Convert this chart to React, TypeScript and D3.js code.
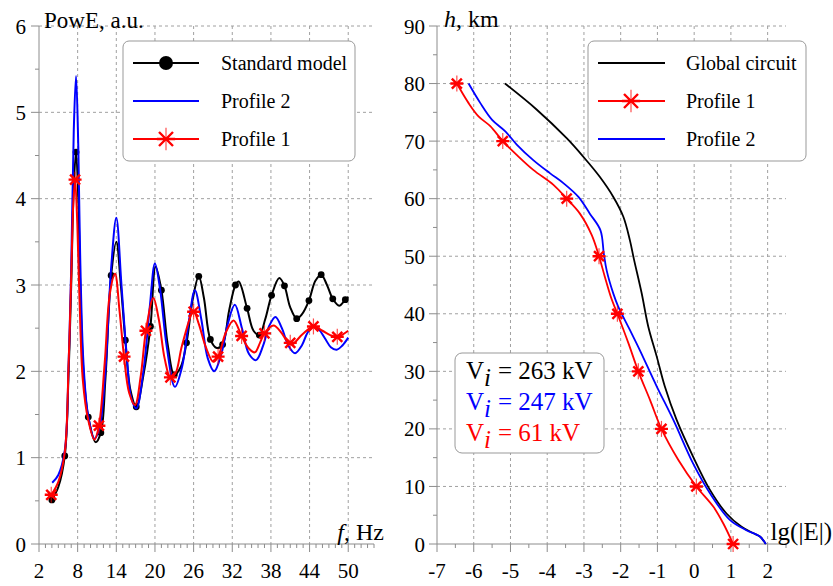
import * as d3 from "d3";

type Pt = [number, number];

// ---- left panel: spectra (f in Hz, PowE in a.u.)
const freqTicks = [2, 8, 14, 20, 26, 32, 38, 44, 50];
const powTicks = [0, 1, 2, 3, 4, 5, 6];

const standardLine: Pt[] = [
  [4.0, 0.51], [5.0, 0.66], [6.0, 1.02], [6.6, 2.0], [7.0, 3.0], [7.4, 4.15], [7.75, 4.54],
  [8.1, 4.0], [8.4, 3.0], [8.9, 2.0], [9.65, 1.47], [10.8, 1.18], [11.6, 1.29], [12.3, 1.9],
  [13.2, 3.11], [14.0, 3.5], [14.7, 3.0], [15.4, 2.36], [16.2, 1.78], [17.1, 1.59], [18.2, 1.95],
  [19.3, 2.52], [20.1, 3.21], [21.0, 2.94], [22.0, 2.3], [23.0, 1.96], [24.0, 2.05], [24.9, 2.33],
  [25.9, 2.85], [26.8, 3.1], [27.6, 2.85], [28.6, 2.37], [29.6, 2.27], [30.5, 2.31], [31.5, 2.7],
  [32.5, 3.0], [33.0, 3.04], [34.3, 2.73], [35.3, 2.47], [36.2, 2.42], [37.1, 2.6], [38.1, 2.88],
  [39.3, 3.08], [40.1, 2.99], [41.0, 2.74], [42.0, 2.61], [42.8, 2.66], [43.9, 2.82], [44.9, 3.05],
  [45.8, 3.12], [46.7, 3.0], [47.6, 2.84], [48.6, 2.76], [49.55, 2.83], [50.0, 2.86],
];
const standardMarks: Pt[] = [
  [4.0, 0.51], [6.0, 1.02], [7.75, 4.54], [9.65, 1.47], [11.6, 1.29], [13.2, 3.11], [15.4, 2.36],
  [17.1, 1.59], [19.3, 2.52], [21.0, 2.94], [23.0, 1.96], [24.9, 2.33], [26.8, 3.1], [28.6, 2.37],
  [30.5, 2.31], [32.5, 3.0], [34.3, 2.73], [36.2, 2.42], [38.1, 2.88], [40.1, 2.99], [42.0, 2.61],
  [43.9, 2.82], [45.8, 3.12], [47.6, 2.84], [49.55, 2.83],
];
const profile2Line: Pt[] = [
  [4.05, 0.71], [5.0, 0.8], [6.0, 1.08], [6.6, 2.1], [7.0, 3.2], [7.4, 4.8], [7.75, 5.42],
  [8.1, 4.6], [8.4, 3.3], [8.9, 2.1], [9.6, 1.5], [10.6, 1.22], [11.4, 1.35], [12.3, 2.0],
  [13.2, 3.2], [14.0, 3.78], [14.8, 3.0], [15.6, 2.2], [16.3, 1.7], [17.1, 1.57], [18.2, 2.0],
  [19.2, 2.75], [20.0, 3.25], [20.8, 2.95], [21.8, 2.3], [23.1, 1.82], [24.2, 2.05], [25.2, 2.55],
  [26.2, 2.94], [27.2, 2.6], [28.2, 2.15], [29.2, 2.0], [30.3, 2.2], [31.3, 2.55], [32.4, 2.77],
  [33.5, 2.5], [34.6, 2.2], [35.7, 2.13], [36.8, 2.3], [37.7, 2.52], [38.7, 2.63], [39.7, 2.5],
  [40.7, 2.3], [41.75, 2.21], [42.8, 2.3], [43.7, 2.45], [44.6, 2.52], [45.5, 2.48], [46.4, 2.38],
  [47.3, 2.28], [48.2, 2.25], [49.1, 2.3], [50.0, 2.39],
];
const profile1Line: Pt[] = [
  [3.9, 0.57], [5.0, 0.72], [6.0, 1.06], [6.6, 2.1], [7.0, 3.1], [7.3, 3.9], [7.6, 4.22],
  [7.95, 3.7], [8.3, 2.8], [8.8, 1.9], [9.6, 1.45], [10.6, 1.21], [11.3, 1.37], [12.2, 2.1],
  [13.0, 2.9], [13.8, 3.13], [14.5, 2.7], [15.2, 2.17], [16.0, 1.75], [16.9, 1.61], [17.8, 1.95],
  [18.6, 2.47], [19.75, 2.85], [20.6, 2.6], [21.5, 2.15], [22.4, 1.93], [23.2, 1.98], [24.2, 2.3],
  [26.0, 2.69], [26.8, 2.55], [27.9, 2.28], [29.05, 2.11], [29.8, 2.17], [31.0, 2.45], [32.2, 2.59],
  [33.45, 2.41], [34.5, 2.27], [35.5, 2.22], [36.3, 2.33], [37.0, 2.44], [38.4, 2.53], [39.6, 2.45],
  [40.4, 2.36], [41.2, 2.31], [42.9, 2.43], [44.6, 2.52], [46.0, 2.47], [47.2, 2.42], [48.3, 2.4],
  [50.0, 2.47],
];
const profile1Marks: Pt[] = [
  [3.9, 0.57], [7.6, 4.22], [11.3, 1.37], [15.2, 2.17], [18.6, 2.47], [22.4, 1.93], [26.0, 2.69],
  [29.8, 2.17], [33.45, 2.41], [37.0, 2.44], [41.0, 2.33], [44.6, 2.52], [48.3, 2.4],
];

// ---- right panel: altitude profiles (lg|E| vs h, km)
const lgTicks = [-7, -6, -5, -4, -3, -2, -1, 0, 1, 2];
const hTicks = [0, 10, 20, 30, 40, 50, 60, 70, 80, 90];

const globalCircuit: Pt[] = [
  [-5.15, 80], [-4.29, 75.5], [-3.47, 70.5], [-3.02, 67.3], [-2.57, 63.8], [-2.2, 60.3],
  [-1.93, 56.9], [-1.75, 52.8], [-1.64, 49.5], [-1.43, 43.6], [-1.25, 37.8], [-1.02, 32.6],
  [-0.8, 27.4], [-0.48, 21.6], [-0.03, 15.2], [0.43, 9.4], [0.88, 5.3], [1.29, 3.0], [1.6, 1.9],
  [1.79, 1.3], [1.95, 0],
];
const profile2Alt: Pt[] = [
  [-6.14, 80], [-5.82, 76.6], [-5.5, 73.7], [-5.14, 71.7], [-4.83, 69.4], [-4.38, 66.7],
  [-3.92, 64.4], [-3.56, 62.7], [-3.15, 60.3], [-2.84, 57.4], [-2.55, 54.5], [-2.46, 50.5],
  [-2.38, 47.5], [-2.2, 43.5], [-2.07, 41.3], [-1.75, 37.2], [-1.48, 33.7], [-1.02, 27.4],
  [-0.57, 21.6], [-0.03, 14.0], [0.43, 8.8], [0.97, 4.2], [1.42, 2.4], [1.79, 1.3], [1.95, 0],
];
const profile1Alt: Pt[] = [
  [-6.46, 80], [-6.14, 76.6], [-5.87, 74.3], [-5.55, 72.6], [-5.21, 70], [-4.83, 67.6],
  [-4.38, 65], [-3.83, 62.4], [-3.47, 60], [-3.11, 57.4], [-2.79, 53.7], [-2.59, 50],
  [-2.43, 46.4], [-2.25, 42.6], [-2.09, 40], [-1.79, 34.9], [-1.52, 30], [-1.2, 25],
  [-0.89, 20], [-0.43, 14.6], [0.06, 10], [0.52, 6.5], [0.79, 3.6], [1.06, 0],
];
const profile1AltMarks: Pt[] = [
  [-6.46, 80], [-5.21, 70], [-3.47, 60], [-2.59, 50], [-2.09, 40], [-1.52, 30], [-0.89, 20],
  [0.06, 10], [1.06, 0],
];

const FONT = "'Liberation Serif', 'Times New Roman', serif";
const GRID = "#a0a0a0";
const AXIS = "#8c8c8c";

const starPath = (s: number) =>
  `M${-s},${-s}L${s},${s}M${-s},${s}L${s},${-s}M${-s * 1.3},0L${s * 1.3},0`;
const starVert = (s: number) => `M0,${-s * 1.6}L0,${s * 1.6}`;

const Star = ({ x, y, s }: { x: number; y: number; s: number }) => (
  <g transform={`translate(${x},${y})`}>
    <path d={starPath(s)} stroke="red" strokeWidth={2.4} fill="none" />
    <path d={starVert(s)} stroke="red" strokeWidth={1.2} fill="none" opacity={0.7} />
  </g>
);

export default function App() {
  // left scales
  const xL = d3.scaleLinear().domain([2, 54]).range([39, 374]);
  const yL = d3.scaleLinear().domain([0, 6]).range([544, 26]);
  // right scales
  const xR = d3.scaleLinear().domain([-7, 2.5]).range([437, 786]);
  const yR = d3.scaleLinear().domain([0, 90]).range([544, 26]);

  const lineL = d3
    .line<Pt>()
    .x((d) => xL(d[0]))
    .y((d) => yL(d[1]))
    .curve(d3.curveCatmullRom.alpha(0.5));
  const lineR = d3
    .line<Pt>()
    .x((d) => xR(d[0]))
    .y((d) => yR(d[1]))
    .curve(d3.curveCatmullRom.alpha(0.5));

  const fMinor = d3.range(2, 54.01, 1);
  const pMinor = d3.range(0, 6.01, 0.5);
  const lgMinor = d3.range(-7, 2.51, 0.5);
  const hMinor = d3.range(0, 90.01, 5);

  return (
    <svg
      width={833}
      height={586}
      style={{ position: "absolute", left: 0, top: 0, background: "#fff" }}
      fontFamily={FONT}
    >
      {/* ================= LEFT PANEL ================= */}
      <g>
        {/* grid */}
        {freqTicks.slice(1).map((t) => (
          <line key={"gv" + t} x1={xL(t)} x2={xL(t)} y1={yL(6)} y2={yL(0)} stroke={GRID} strokeDasharray="3,3" />
        ))}
        {powTicks.slice(1).map((t) => (
          <line key={"gh" + t} x1={xL(2)} x2={xL(54)} y1={yL(t)} y2={yL(t)} stroke={GRID} strokeDasharray="3,3" />
        ))}
        {/* axes */}
        <line x1={xL(2)} x2={xL(2)} y1={yL(0)} y2={yL(6)} stroke={AXIS} />
        <line x1={xL(2)} x2={xL(54)} y1={yL(0)} y2={yL(0)} stroke={AXIS} />
        {pMinor.map((t) => (
          <line key={"ym" + t} x1={xL(2) - (t % 1 === 0 ? 8 : 4)} x2={xL(2)} y1={yL(t)} y2={yL(t)} stroke={AXIS} />
        ))}
        {fMinor.map((t) => (
          <line key={"xm" + t} x1={xL(t)} x2={xL(t)} y1={yL(0)} y2={yL(0) + ((t - 2) % 6 === 0 ? 8 : 4)} stroke={AXIS} />
        ))}
        {powTicks.map((t) => (
          <text key={"yl" + t} x={26} y={yL(t) + 7.5} textAnchor="end" fontSize={21}>
            {t}
          </text>
        ))}
        {freqTicks.map((t) => (
          <text key={"xl" + t} x={xL(t)} y={578} textAnchor="middle" fontSize={21}>
            {t}
          </text>
        ))}
        <text x={44} y={28} fontSize={23}>PowE, a.u.</text>
        <text x={384} y={540} textAnchor="end" fontSize={24}>
          <tspan fontStyle="italic">f</tspan>, Hz
        </text>

        {/* curves */}
        <path d={lineL(standardLine) ?? ""} fill="none" stroke="black" strokeWidth={2} />
        {standardMarks.map((d, i) => (
          <circle key={"sm" + i} cx={xL(d[0])} cy={yL(d[1])} r={3.4} fill="black" />
        ))}
        <path d={lineL(profile2Line) ?? ""} fill="none" stroke="#0000ff" strokeWidth={2} />
        <path d={lineL(profile1Line) ?? ""} fill="none" stroke="#ff0000" strokeWidth={2} />
        {profile1Marks.map((d, i) => (
          <Star key={"pm" + i} x={xL(d[0])} y={yL(d[1])} s={5} />
        ))}

        {/* legend */}
        <rect x={123} y={41} width={232} height={120} rx={6} fill="white" stroke="#999" />
        <line x1={133} x2={199} y1={63} y2={63} stroke="black" strokeWidth={2} />
        <circle cx={166} cy={63} r={7} fill="black" />
        <text x={221} y={70} fontSize={20}>Standard model</text>
        <line x1={133} x2={199} y1={101} y2={101} stroke="#0000ff" strokeWidth={2} />
        <text x={221} y={108} fontSize={20}>Profile 2</text>
        <line x1={133} x2={199} y1={139} y2={139} stroke="#ff0000" strokeWidth={2} />
        <Star x={166} y={139} s={7} />
        <text x={221} y={146} fontSize={20}>Profile 1</text>
      </g>

      {/* ================= RIGHT PANEL ================= */}
      <g>
        {lgTicks.slice(1).map((t) => (
          <line key={"rgv" + t} x1={xR(t)} x2={xR(t)} y1={yR(90)} y2={yR(0)} stroke={GRID} strokeDasharray="3,3" />
        ))}
        {hTicks.slice(1).map((t) => (
          <line key={"rgh" + t} x1={xR(-7)} x2={xR(2.5)} y1={yR(t)} y2={yR(t)} stroke={GRID} strokeDasharray="3,3" />
        ))}
        <line x1={xR(-7)} x2={xR(-7)} y1={yR(0)} y2={yR(90)} stroke={AXIS} />
        <line x1={xR(-7)} x2={xR(2.5)} y1={yR(0)} y2={yR(0)} stroke={AXIS} />
        {hMinor.map((t) => (
          <line key={"rym" + t} x1={xR(-7) - (t % 10 === 0 ? 8 : 4)} x2={xR(-7)} y1={yR(t)} y2={yR(t)} stroke={AXIS} />
        ))}
        {lgMinor.map((t) => (
          <line key={"rxm" + t} x1={xR(t)} x2={xR(t)} y1={yR(0)} y2={yR(0) + (Number.isInteger(t) ? 8 : 4)} stroke={AXIS} />
        ))}
        {hTicks.map((t) => (
          <text key={"ryl" + t} x={425} y={yR(t) + 7.5} textAnchor="end" fontSize={21}>
            {t}
          </text>
        ))}
        {lgTicks.map((t) => (
          <text key={"rxl" + t} x={xR(t)} y={578} textAnchor="middle" fontSize={21}>
            {t}
          </text>
        ))}
        <text x={444} y={27} fontSize={24}>
          <tspan fontStyle="italic">h</tspan>, km
        </text>
        <text x={832} y={540} textAnchor="end" fontSize={25}>lg(|E|)</text>

        <path d={lineR(globalCircuit) ?? ""} fill="none" stroke="black" strokeWidth={1.8} />
        <path d={lineR(profile2Alt) ?? ""} fill="none" stroke="#0000ff" strokeWidth={1.8} />
        <path d={lineR(profile1Alt) ?? ""} fill="none" stroke="#ff0000" strokeWidth={1.8} />
        {profile1AltMarks.map((d, i) => (
          <Star key={"ram" + i} x={xR(d[0])} y={yR(d[1])} s={5} />
        ))}

        {/* legend */}
        <rect x={588} y={41} width={218} height={120} rx={6} fill="white" stroke="#999" />
        <line x1={598} x2={665} y1={63} y2={63} stroke="black" strokeWidth={1.8} />
        <text x={686} y={70} fontSize={20}>Global circuit</text>
        <line x1={598} x2={665} y1={101} y2={101} stroke="#ff0000" strokeWidth={1.8} />
        <Star x={631} y={101} s={7} />
        <text x={686} y={108} fontSize={20}>Profile 1</text>
        <line x1={598} x2={665} y1={139} y2={139} stroke="#0000ff" strokeWidth={1.8} />
        <text x={686} y={146} fontSize={20}>Profile 2</text>

        {/* potential box */}
        <rect x={455} y={353} width={149} height={100} rx={7} fill="white" stroke="#999" />
        {[
          { y: 379, c: "black", v: "= 263 kV" },
          { y: 410, c: "#0000ff", v: "= 247 kV" },
          { y: 441, c: "#ff0000", v: "= 61 kV" },
        ].map((r) => (
          <g key={r.v} fill={r.c} fontSize={25}>
            <text x={466} y={r.y}>V</text>
            <text x={484} y={r.y + 7} fontStyle="italic">i</text>
            <text x={498} y={r.y}>{r.v}</text>
          </g>
        ))}
      </g>
    </svg>
  );
}
